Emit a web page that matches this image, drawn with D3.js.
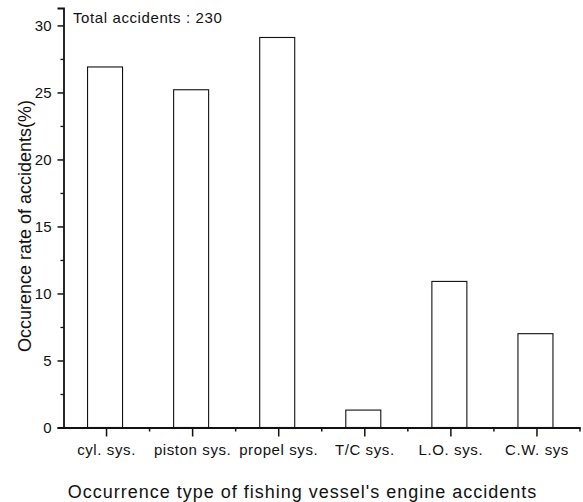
<!DOCTYPE html>
<html>
<head>
<meta charset="utf-8">
<script src="https://cdn.jsdelivr.net/npm/d3@7"></script>
<style>
  html, body { margin: 0; padding: 0; background: #fff; }
  svg { display: block; font-family: "Liberation Sans", Arial, sans-serif; }
</style>
</head>
<body>
<svg id="chart" width="583" height="502"></svg>
<script>
// Accident categories and their share of all engine accidents (%)
const categories = ["cyl. sys.", "piston sys.", "propel sys.", "T/C sys.", "L.O. sys.", "C.W. sys"];
const rates = [26.9, 25.2, 29.1, 1.3, 10.9, 7.0];
const yTicks = [0, 5, 10, 15, 20, 25, 30];
const yMinorTicks = [2.5, 7.5, 12.5, 17.5, 22.5, 27.5];
const totalNote = "Total accidents : 230";
const xTitle = "Occurrence type of fishing vessel's engine accidents";
const yTitle = "Occurence rate of accidents(%)";

const svg = d3.select("#chart");
const font = "Liberation Sans, Arial, sans-serif";
const plotLeft = 63.5, plotRight = 580, plotTop = 8, plotBottom = 427.5;

const x = d3.scaleBand().domain(categories).range([plotLeft, plotRight]).padding(0);
const y = d3.scaleLinear().domain([0, 31.3]).range([plotBottom, plotTop]);

const ink = "#111";
const barW = 35;

// bars
svg.append("g").selectAll("rect")
  .data(categories.map((c, i) => ({ c, v: rates[i] })))
  .join("rect")
  .attr("x", d => x(d.c) + x.bandwidth() / 2 - barW / 2 - 1.5)
  .attr("y", d => y(d.v))
  .attr("width", barW)
  .attr("height", d => plotBottom - y(d.v))
  .attr("fill", "#fff")
  .attr("stroke", ink)
  .attr("stroke-width", 1.1);

// y axis: labelled majors every 5, short minors between
const yAxis = svg.append("g").attr("transform", `translate(${plotLeft},0)`)
  .call(d3.axisLeft(y).tickValues(yTicks).tickSize(6).tickPadding(6).tickFormat(d3.format("d")));
yAxis.select(".domain").attr("stroke", ink).attr("stroke-width", 1.8);
yAxis.selectAll(".tick line").attr("stroke", ink).attr("stroke-width", 1.5);
yAxis.selectAll(".tick text").attr("font-size", 15).attr("fill", ink).attr("font-family", font);
svg.append("g").attr("transform", `translate(${plotLeft},0)`)
  .call(d3.axisLeft(y).tickValues(yMinorTicks).tickSize(3).tickFormat(""))
  .call(g => g.select(".domain").remove())
  .selectAll(".tick line").attr("stroke", ink).attr("stroke-width", 1.3);

// x axis: ticks at category centres
const xAxis = svg.append("g").attr("transform", `translate(0,${plotBottom})`)
  .call(d3.axisBottom(x).tickSize(9).tickPadding(8).tickSizeOuter(0));
xAxis.select(".domain").attr("stroke", ink).attr("stroke-width", 1.8);
xAxis.selectAll(".tick line").attr("stroke", ink).attr("stroke-width", 1.5);
xAxis.selectAll(".tick text").attr("font-size", 15).attr("fill", ink)
  .attr("letter-spacing", 0.6).attr("font-family", font);
// minor ticks at band edges
const edges = categories.map(c => x(c)).slice(1).concat([plotRight]);
svg.append("g").selectAll("line").data(edges).join("line")
  .attr("x1", d => d).attr("x2", d => d)
  .attr("y1", plotBottom).attr("y2", plotBottom + 4)
  .attr("stroke", ink).attr("stroke-width", 1.5);

// annotation
svg.append("text").attr("x", 73).attr("y", 22.5)
  .attr("font-size", 15).attr("letter-spacing", 0.6).attr("fill", ink)
  .text(totalNote);

// axis titles
svg.append("text").attr("x", 302.5).attr("y", 498)
  .attr("text-anchor", "middle").attr("font-size", 18).attr("letter-spacing", 1).attr("fill", ink)
  .text(xTitle);
svg.append("text")
  .attr("transform", "translate(31,226) rotate(-90)")
  .attr("text-anchor", "middle").attr("font-size", 18).attr("fill", ink)
  .text(yTitle);
</script>
</body>
</html>
